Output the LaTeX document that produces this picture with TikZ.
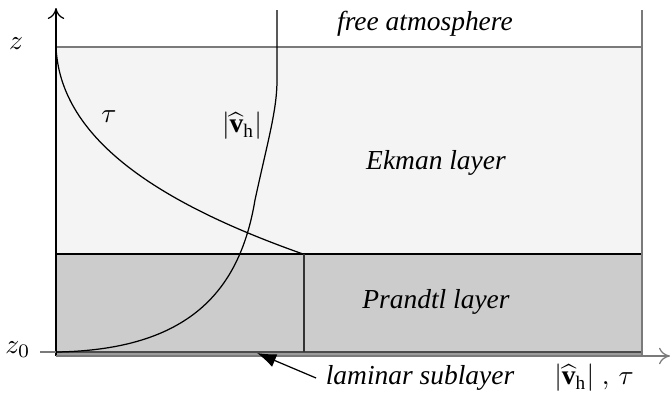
\documentclass[tikz,border=0pt]{standalone}
\usepackage{xcolor}
\usepackage{tikz}
\usepackage{amsmath}
\usepackage{fontspec}
\setmainfont{Liberation Serif}
\usetikzlibrary{arrows.meta,positioning}
\definecolor{EkmanBG}   {HTML}{F4F4F4}
\definecolor{PrandtlBG} {HTML}{CCCCCC}
\definecolor{SublayerBG}{HTML}{9C9C9C}
\definecolor{EdgeGray}  {HTML}{7A7A7A}

\begin{document}
\begin{tikzpicture}[x=0.0128cm,y=-0.0128cm,line width=0.45pt,
    layerlabel/.style={font=\itshape\fontsize{10}{12}\selectfont},
    axislabel/.style={font=\fontsize{10}{12}\selectfont,inner sep=1pt}]
    \useasboundingbox (0,0) rectangle (672,394);
    % layers
    \fill[EkmanBG] (56,47) rectangle (642,254);
    \fill[PrandtlBG] (56,254) rectangle (642,352);
    \fill[SublayerBG] (56,352) rectangle (642,356);
    \draw[EdgeGray] (56,47) -- (642,47);
    \draw (56,254) -- (642,254);
    \draw[black!70] (56,352) -- (642,352);
    \draw[EdgeGray] (642,10) -- (642,356);
    \draw[black!80] (304,254) -- (304,352);
    % axes
    \coordinate (origin) at (56,356);
    \coordinate (ztip) at (56,8);
    \coordinate (xtip) at (670,356);
    \draw[-{To[length=4pt,width=6pt]}] (origin) -- (ztip);
    \draw[EdgeGray,-{To[length=4pt,width=6pt]}] (origin) -- (xtip);
    \node[axislabel] (z) at (16,44) {$z$};
    \node[axislabel] (z0) at (18,350) {$z_0$};
    \draw[EdgeGray] (40,352) -- (56,352);
    % profiles
    \draw (56,47) .. controls (60,135) and (150,200) .. (303,254);
    \draw (56,352) .. controls (190,350) and (240,290) .. (255,200)
          .. controls (268,140) and (277,110) .. (277,80) -- (277,10);
    \node[axislabel] (tau) at (109,117) {$\tau$};
    \node[axislabel] (vh) at (242,126) {$|\widehat{\mathbf{v}}_\mathrm{h}|$};
    % layer names
    \node[layerlabel] (free) at (425,24) {free atmosphere};
    \node[layerlabel] (ekman) at (436,163) {Ekman layer};
    \node[layerlabel] (prandtl) at (436,302) {Prandtl layer};
    \node[layerlabel] (laminar) at (420,378) {laminar sublayer};
    \node[axislabel] (xlabel) at (594,378) {$|\widehat{\mathbf{v}}_\mathrm{h}|\;,\,\tau$};
    \coordinate (sub) at (257,353);
    \draw[-{Latex[length=7pt,width=5pt]}] (laminar.west) -- (sub);
\end{tikzpicture}
\end{document}
